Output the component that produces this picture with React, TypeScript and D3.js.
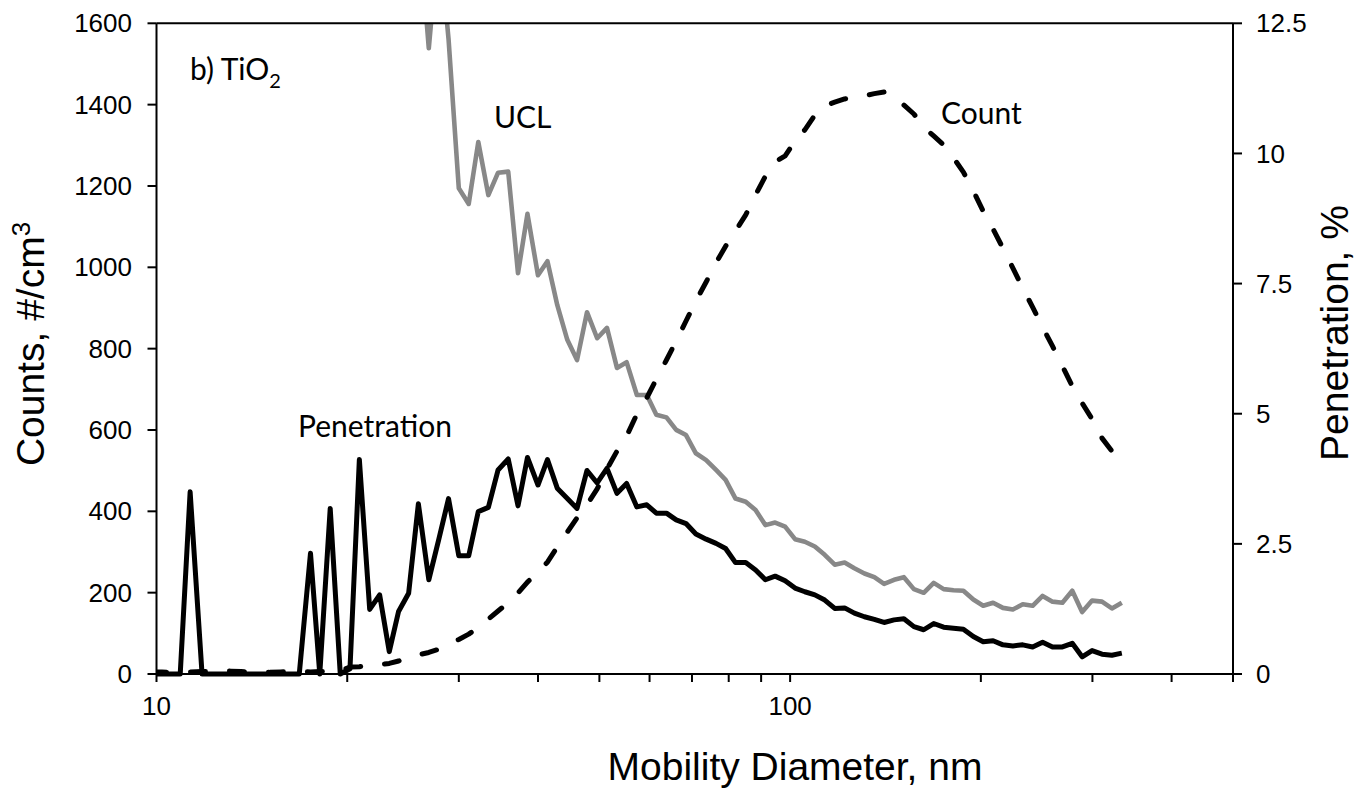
import React from 'react';
import * as d3 from 'd3';

// Mobility diameter channels (nm)
const diameters: number[] = [
  9.82, 10.2, 10.6, 10.9, 11.3, 11.8, 12.2, 12.6, 13.1, 13.6, 14.1, 14.6, 15.1, 15.7, 16.3, 16.8,
  17.5, 18.1, 18.8, 19.5, 20.2, 20.9, 21.7, 22.5, 23.3, 24.1, 25.0, 25.9, 26.9, 27.9, 28.9, 30.0,
  31.1, 32.2, 33.4, 34.6, 35.9, 37.2, 38.5, 40.0, 41.4, 42.9, 44.5, 46.1, 47.8, 49.6, 51.4, 53.3,
  55.2, 57.3, 59.4, 61.5, 63.8, 66.1, 68.5, 71.0, 73.7, 76.4, 79.1, 82.0, 85.1, 88.2, 91.4, 94.7,
  98.2, 101.8, 105.5, 109.4, 113.4, 117.6, 121.9, 126.3, 131.0, 135.8, 140.7, 145.9, 151.2, 156.8,
  162.5, 168.5, 174.7, 181.1, 187.7, 194.6, 201.7, 209.1, 216.7, 224.7, 232.9, 241.4, 250.3, 259.5,
  269.0, 278.8, 289.0, 299.6, 310.6, 322.0, 333.8,
];

// Penetration, % (right axis)
const penetration: number[] = [
  0, 0, 0, 0, 3.5, 0, 0, 0, 0, 0, 0, 0, 0, 0, 0, 0,
  2.32, 0, 3.18, 0, 0.1, 4.12, 1.24, 1.52, 0.43, 1.2, 1.55, 3.27, 1.81, 2.59, 3.37, 2.27,
  2.27, 3.12, 3.2, 3.92, 4.13, 3.23, 4.16, 3.63, 4.12, 3.57, 3.37, 3.18, 3.91, 3.67, 3.95, 3.47,
  3.66, 3.21, 3.25, 3.09, 3.09, 2.96, 2.89, 2.69, 2.59, 2.51, 2.41, 2.14, 2.14, 2.0, 1.81, 1.88,
  1.79, 1.65, 1.58, 1.52, 1.42, 1.26, 1.27, 1.17, 1.1, 1.05, 0.99, 1.04, 1.06, 0.91, 0.85, 0.97,
  0.9, 0.88, 0.86, 0.72, 0.62, 0.64, 0.56, 0.54, 0.56, 0.52, 0.61, 0.52, 0.52, 0.59, 0.33, 0.45,
  0.38, 0.36, 0.4,
];

// Upper confidence limit of penetration, % (right axis)
const ucl: (number | null)[] = [
  null, null, null, null, null, null, null, null, null, null, null, null, null, null, null, null,
  null, null, null, null, null, null, null, null, null, 20, 17, 14.5, 12.02, 14.2, 12.2, 9.33,
  9.03, 10.22, 9.2, 9.63, 9.65, 7.7, 8.84, 7.66, 7.93, 7.09, 6.42, 6.03, 6.95, 6.45, 6.65, 5.88,
  5.99, 5.36, 5.36, 4.98, 4.93, 4.69, 4.59, 4.24, 4.11, 3.92, 3.73, 3.37, 3.31, 3.15, 2.86, 2.91,
  2.83, 2.59, 2.54, 2.45, 2.29, 2.1, 2.14, 2.03, 1.93, 1.86, 1.73, 1.81, 1.86, 1.63, 1.56, 1.75,
  1.63, 1.61, 1.6, 1.43, 1.31, 1.37, 1.27, 1.24, 1.34, 1.31, 1.5, 1.39, 1.37, 1.6, 1.19, 1.41,
  1.39, 1.26, 1.37,
];

// Upstream counts, #/cm3 (left axis)
const counts: (number | null)[] = [
  5, 5, 4, 6, 5, 6, 7, 8, 7, 6, 5, 5, 4, 5, 6, 6,
  5, 6, 7, 8, 17, 18, 22, 23, 26, 32, 41, 47, 53, 61, 74, 85,
  98, 114, 135, 155, 175, 199, 226, 251, 275, 312, 349, 384, 416, 455, 504, 548,
  585, 639, 679, 725, 772, 819, 868, 917, 964, 1011, 1052, 1089, 1129, 1178, 1224, 1259,
  1274, 1311, 1338, 1374, 1397, 1406, 1414, 1418, 1422, 1427, 1431, 1418, 1399, 1377, 1345, 1323,
  1301, 1269, 1234, 1188, 1138, 1094, 1047, 998, 949, 902, 853, 806, 757, 708, 666, 627,
  580, 548, null,
];

const xTicks: number[] = [10, 20, 30, 40, 50, 60, 70, 80, 90, 100, 200, 300, 400, 500];
const xTickLabels: number[] = [10, 100];
const leftTicks: number[] = [0, 200, 400, 600, 800, 1000, 1200, 1400, 1600];
const rightTicks: number[] = [0, 2.5, 5, 7.5, 10, 12.5];

const W = 1371;
const H = 790;
const PL = 156.5;
const PR = 1233;
const PT = 23.3;
const PB = 674;

const axisFont = "'Liberation Sans', Arial, sans-serif";
const noteFont = "Lato, 'Open Sans', sans-serif";

export default function App() {
  const x = d3.scaleLog().domain([10, 500]).range([PL, PR]);
  const yL = d3.scaleLinear().domain([0, 1600]).range([PB, PT]);
  const yR = d3.scaleLinear().domain([0, 12.5]).range([PB, PT]);

  const makePath = (vals: (number | null)[], y: d3.ScaleLinear<number, number>) =>
    d3
      .line<[number, number | null]>()
      .defined((d) => d[1] != null)
      .x((d) => x(d[0]))
      .y((d) => y(d[1] as number))(
      diameters.map((d, i) => [d, vals[i] ?? null] as [number, number | null])
    ) || '';

  const uclPath = makePath(ucl, yR);
  const penPath = makePath(penetration, yR);
  const cntPath = makePath(counts, yL);

  return (
    <svg
      width={W}
      height={H}
      style={{ position: 'absolute', left: 0, top: 0, background: '#fff' }}
    >
      <defs>
        <clipPath id="plotClip">
          <rect x={PL} y={PT} width={PR - PL} height={PB - PT + 3} />
        </clipPath>
      </defs>
      <rect x={0} y={0} width={W} height={H} fill="#fff" />

      {/* series */}
      <g clipPath="url(#plotClip)" fill="none" strokeLinejoin="round">
        <path d={uclPath} stroke="#888888" strokeWidth={4.6} />
        <path d={penPath} stroke="#000" strokeWidth={5} />
        <path
          d={cntPath}
          stroke="#000"
          strokeWidth={5}
          strokeDasharray="15 24"
          strokeLinecap="round"
        />
      </g>

      {/* frame / axes */}
      <g stroke="#000" strokeWidth={2} fill="none">
        <line x1={PL} x2={PR} y1={PT} y2={PT} />
        <line x1={PL} x2={PR} y1={PB} y2={PB} />
        <line x1={PL} x2={PL} y1={PT} y2={PB} />
        <line x1={PR} x2={PR} y1={PT} y2={PB} />
        {xTicks.map((t) => (
          <line key={'xt' + t} x1={x(t)} x2={x(t)} y1={PB} y2={PB + 8} />
        ))}
        {leftTicks.map((t) => (
          <line key={'lt' + t} x1={PL - 9} x2={PL} y1={yL(t)} y2={yL(t)} />
        ))}
        {rightTicks.map((t) => (
          <line key={'rt' + t} x1={PR} x2={PR + 9} y1={yR(t)} y2={yR(t)} />
        ))}
      </g>

      {/* tick labels */}
      <g fontFamily={axisFont} fontSize={26} fill="#000">
        {leftTicks.map((t) => (
          <text key={'ll' + t} x={132} y={yL(t)} dy="0.35em" textAnchor="end">
            {t}
          </text>
        ))}
        {rightTicks.map((t) => (
          <text key={'rl' + t} x={1256} y={yR(t)} dy="0.35em" textAnchor="start">
            {t}
          </text>
        ))}
        {xTickLabels.map((t) => (
          <text key={'xl' + t} x={x(t)} y={715} textAnchor="middle">
            {t}
          </text>
        ))}
      </g>

      {/* axis titles */}
      <g fontFamily={axisFont} fontSize={39} fill="#000">
        <text x={795} y={780} textAnchor="middle">
          Mobility Diameter, nm
        </text>
        <text transform="translate(44,344) rotate(-90)" textAnchor="middle">
          Counts, #/cm<tspan dy={-14} fontSize={26}>3</tspan>
        </text>
        <text transform="translate(1348,333) rotate(-90)" textAnchor="middle">
          Penetration, %
        </text>
      </g>

      {/* annotations */}
      <g fontFamily={noteFont} fontSize={30} fill="#000">
        <text x={190} y={80}>
          b) TiO<tspan dy={8} fontSize={20}>2</tspan>
        </text>
        <text x={494} y={128}>UCL</text>
        <text x={941} y={124}>Count</text>
        <text x={298} y={437}>Penetration</text>
      </g>
    </svg>
  );
}
